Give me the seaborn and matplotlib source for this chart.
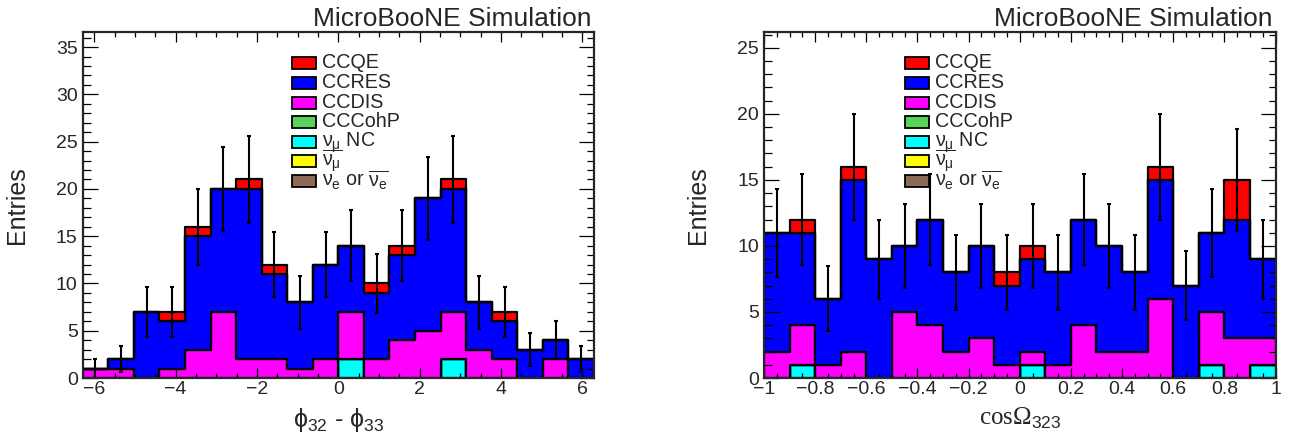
import numpy as np
import pandas as pd
import matplotlib
matplotlib.use("Agg")
import matplotlib.pyplot as plt
from matplotlib.patches import Rectangle
from matplotlib.ticker import MultipleLocator, FuncFormatter
import seaborn as sns

# --- binning (20 bins per panel) ---
phi_edges = np.linspace(-2 * np.pi, 2 * np.pi, 21)
cos_edges = np.linspace(-1.0, 1.0, 21)

# --- interaction modes, legend order (first one ends up on top of the stack) ---
modes = ["CCQE", "CCRES", "CCDIS", "CCCohP", "numu NC", "numubar", "nue"]
mode_labels = ["CCQE", "CCRES", "CCDIS", "CCCohP",
               r"$\nu_{\mu}$ NC", r"$\overline{\nu_{\mu}}$",
               r"$\nu_{e}$ or $\overline{\nu_{e}}$"]
mode_colors = ["#ff0000", "#0000ff", "#ff00ff", "#57d357",
               "#00ffff", "#ffff00", "#8b6a58"]

# --- phi_32 - phi_33 ---
phi_ccqe = [0, 0, 0, 1, 1, 0, 1, 1, 0, 0, 0, 1, 1, 0, 1, 0, 1, 0, 0, 0]
phi_ccres = [0, 1, 7, 5, 12, 13, 18, 9, 7, 10, 7, 7, 9, 14, 13, 5, 4, 3, 2, 2]
phi_ccdis = [1, 1, 0, 1, 3, 7, 2, 2, 1, 2, 5, 2, 4, 5, 5, 3, 2, 0, 2, 0]
phi_cohp = [0] * 20
phi_numu_nc = [0, 0, 0, 0, 0, 0, 0, 0, 0, 0, 2, 0, 0, 0, 2, 0, 0, 0, 0, 0]
phi_numubar = [0] * 20
phi_nue = [0] * 20

# --- cos Omega_323 ---
cos_ccqe = [0, 1, 0, 1, 0, 0, 0, 0, 0, 1, 1, 0, 0, 0, 0, 1, 0, 0, 3, 0]
cos_ccres = [9, 7, 5, 13, 9, 5, 8, 6, 7, 6, 7, 7, 8, 8, 6, 9, 7, 6, 9, 6]
cos_ccdis = [2, 3, 1, 2, 0, 5, 4, 2, 3, 1, 1, 1, 4, 2, 2, 6, 0, 4, 3, 2]
cos_cohp = [0] * 20
cos_numu_nc = [0, 1, 0, 0, 0, 0, 0, 0, 0, 0, 1, 0, 0, 0, 0, 0, 0, 1, 0, 1]
cos_numubar = [0] * 20
cos_nue = [0] * 20

sns.set_style("ticks")
plt.rcParams["font.family"] = ["Liberation Sans", "DejaVu Sans"]
plt.rcParams["mathtext.fontset"] = "custom"
plt.rcParams["mathtext.rm"] = "Liberation Sans"
plt.rcParams["mathtext.it"] = "Liberation Sans"
plt.rcParams["mathtext.sf"] = "Liberation Sans"
plt.rcParams["mathtext.tt"] = "Liberation Serif"
plt.rcParams["axes.unicode_minus"] = True


def to_frame(edges, counts):
    centers = 0.5 * (edges[:-1] + edges[1:])
    parts = [pd.DataFrame({"x": centers, "w": vals, "mode": m})
             for m, vals in zip(modes, counts)]
    return pd.concat(parts, ignore_index=True)


def draw_panel(ax, edges, counts, ymax, xlabel, xmajor, xminor, leg_x):
    df = to_frame(edges, counts)
    sns.histplot(data=df, x="x", weights="w", hue="mode", hue_order=modes,
                 palette=mode_colors, bins=list(edges), multiple="stack",
                 element="step", fill=True, alpha=1, edgecolor="black",
                 linewidth=1.6, legend=False, ax=ax)

    centers = 0.5 * (edges[:-1] + edges[1:])
    total = np.sum(np.array(counts, dtype=float), axis=0)
    ax.errorbar(centers, total, yerr=np.sqrt(total), fmt="none",
                ecolor="black", elinewidth=1.5, capsize=1.6, capthick=1.5,
                zorder=5)

    # ticks drawn over the filled histograms, like ROOT
    ax.set_axisbelow(False)
    ax.set_xlim(edges[0], edges[-1])
    ax.set_ylim(0, ymax)
    ax.xaxis.set_major_locator(MultipleLocator(xmajor))
    ax.xaxis.set_minor_locator(MultipleLocator(xminor))
    ax.yaxis.set_major_locator(MultipleLocator(5))
    ax.yaxis.set_minor_locator(MultipleLocator(1))
    ax.tick_params(which="both", direction="in", top=True, right=True,
                   width=0.9, color="black", labelsize=14)
    ax.tick_params(axis="x", which="major", length=7.5, pad=2.4)
    ax.tick_params(axis="x", which="minor", length=3.7)
    ax.tick_params(axis="y", which="major", length=10.8, pad=3.6)
    ax.tick_params(axis="y", which="minor", length=5.4)
    for sp in ax.spines.values():
        sp.set_linewidth(1.6)
        sp.set_zorder(10)

    ax.set_xlabel(xlabel, fontsize=18)
    ax.set_ylabel("Entries", fontsize=18)
    ax.xaxis.set_label_coords(0.5, -0.08)
    ax.yaxis.set_label_coords(-0.105, 0.5)

    ax.annotate("MicroBooNE Simulation", xy=(1, 1), xycoords="axes fraction",
                xytext=(-2, 4.5), textcoords="offset points", ha="right",
                va="baseline", fontsize=19)

    # ROOT-style legend: filled boxes with black borders, no frame
    box_w, box_h, dy = 24 / 511, 12 / 346, 19.6 / 346
    top = 1 - (57.3 - 32) / 346
    for i, (lab, col) in enumerate(zip(mode_labels, mode_colors)):
        yb = top - box_h - i * dy
        ax.add_patch(Rectangle((leg_x, yb), box_w, box_h, transform=ax.transAxes,
                               facecolor=col, edgecolor="black", linewidth=1.3,
                               zorder=11, clip_on=False))
        ax.text(leg_x + box_w + 6 / 511, yb + 1 / 346, lab, transform=ax.transAxes,
                fontsize=14.2, va="baseline", ha="left", zorder=11)


fig = plt.figure(figsize=(12.92, 4.4), dpi=100)
ax1 = fig.add_axes([82.7 / 1292, 62 / 440, 511.3 / 1292, 346 / 440])
ax2 = fig.add_axes([764 / 1292, 62 / 440, 511.5 / 1292, 346 / 440])

draw_panel(ax1, phi_edges,
           [phi_ccqe, phi_ccres, phi_ccdis, phi_cohp, phi_numu_nc, phi_numubar, phi_nue],
           36.6, r"$\phi_{32}$ - $\phi_{33}$", 2, 0.5, 0.409)
draw_panel(ax2, cos_edges,
           [cos_ccqe, cos_ccres, cos_ccdis, cos_cohp, cos_numu_nc, cos_numubar, cos_nue],
           26.2, r"$\mathtt{cos\Omega}_{323}$", 0.2, 0.05, 0.276)
ax2.xaxis.set_major_formatter(FuncFormatter(
    lambda v, p: ("%g" % round(v, 2)).replace("-", "\u2212")))

fig.savefig("out.png", dpi=100)
